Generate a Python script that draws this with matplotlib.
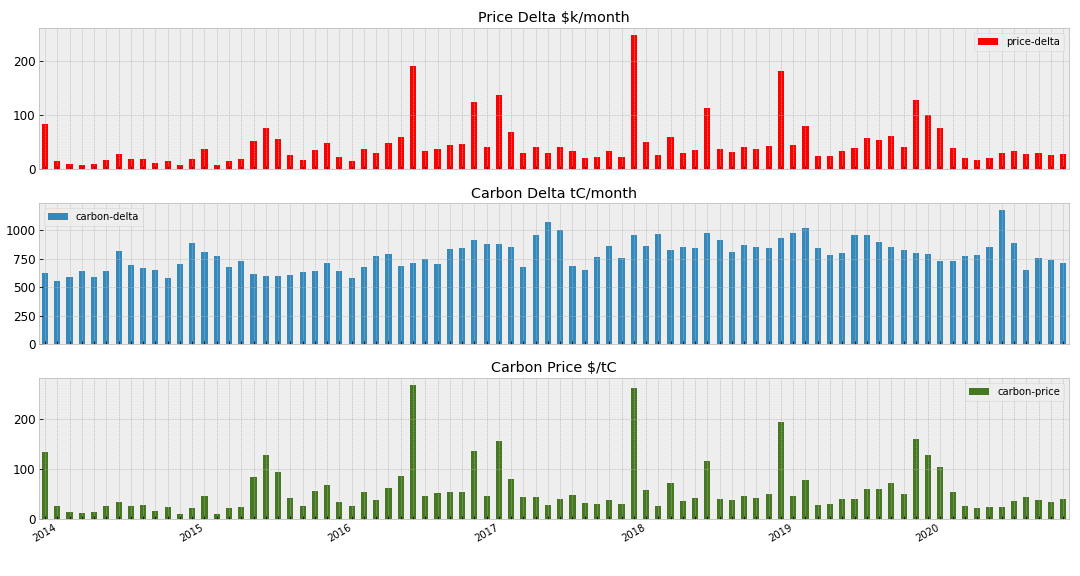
import numpy as np
import pandas as pd
import matplotlib
matplotlib.use('Agg')
import matplotlib.pyplot as plt

plt.style.use('bmh')

months = pd.date_range('2014-01-01', periods=84, freq='MS')

price_delta = [84, 15, 9, 7, 9, 17, 28, 19, 19, 11, 15, 7,
               19, 37, 7, 15, 19, 52, 76, 56, 26, 17, 35, 48,
               22, 15, 37, 30, 48, 59, 191, 33, 37, 45, 46, 124,
               41, 137, 69, 30, 41, 30, 41, 33, 20, 22, 33, 22,
               249, 50, 26, 59, 30, 35, 113, 37, 32, 41, 37, 43,
               182, 45, 80, 24, 24, 33, 39, 58, 54, 61, 41, 128,
               100, 76, 39, 20, 17, 20, 30, 33, 28, 30, 26, 28]

carbon_delta = [626, 556, 591, 644, 591, 644, 820, 697, 670, 653, 582, 706,
                891, 811, 776, 679, 732, 617, 600, 600, 609, 635, 644, 714,
                644, 582, 679, 776, 794, 688, 714, 750, 706, 838, 847, 917,
                882, 882, 856, 679, 961, 1076, 1005, 688, 653, 767, 864, 759,
                961, 864, 970, 829, 856, 847, 979, 917, 811, 873, 856, 847,
                935, 979, 1023, 847, 785, 803, 961, 961, 900, 856, 829, 803,
                794, 732, 732, 776, 785, 856, 1182, 891, 653, 759, 741, 714]

carbon_price = [134, 26, 14, 12, 14, 26, 34, 26, 28, 16, 24, 10,
                22, 46, 10, 22, 24, 84, 128, 94, 42, 26, 56, 68,
                34, 26, 54, 38, 62, 86, 269, 46, 52, 54, 54, 136,
                46, 157, 80, 44, 44, 28, 40, 48, 32, 30, 38, 30,
                263, 58, 26, 72, 36, 42, 116, 40, 38, 46, 42, 50,
                195, 46, 78, 28, 30, 40, 40, 60, 60, 72, 50, 161,
                128, 104, 54, 26, 22, 24, 24, 36, 44, 38, 34, 40]

panels = [
    (price_delta, 'price-delta', 'Price Delta $k/month', 'red', 'upper right'),
    (carbon_delta, 'carbon-delta', 'Carbon Delta tC/month', '#348ABD', 'upper left'),
    (carbon_price, 'carbon-price', 'Carbon Price $/tC', '#467821', 'upper right'),
]

fig, axes = plt.subplots(3, 1, figsize=(15, 8), dpi=72, sharex=True)
x = np.arange(len(months))
labels = [str(d.year) if d.month == 1 else '' for d in months]

for ax, (vals, name, title, color, loc) in zip(axes, panels):
    ax.bar(x, vals, width=0.5, color=color, label=name)
    ax.set_title(title, fontsize=14.4)
    ax.legend(loc=loc, fontsize=10)
    ax.set_xlim(-0.5, len(x) - 0.5)
    ax.tick_params(axis='y', labelsize=12)

axes[-1].set_xticks(x)
axes[-1].set_xticklabels(labels, fontsize=10, rotation=30, ha='center')

plt.subplots_adjust(left=0.036, right=0.990, top=0.951, bottom=0.099, hspace=0.24)
plt.savefig('out.png', dpi=72)
